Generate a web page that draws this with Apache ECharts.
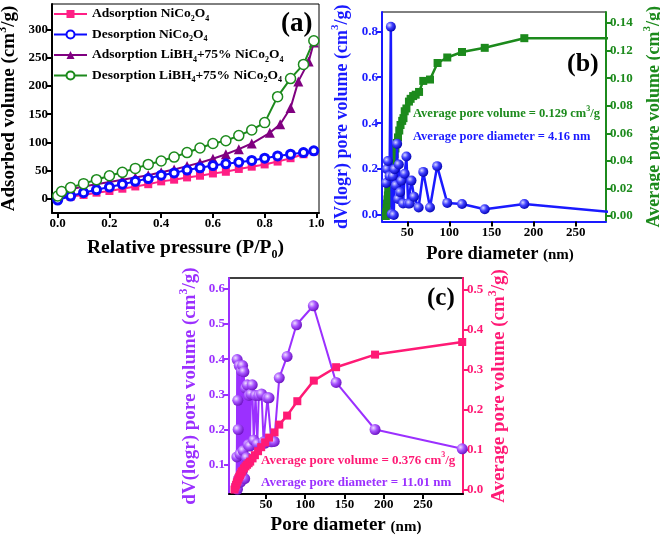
<!DOCTYPE html>
<html><head><meta charset="utf-8">
<script src="https://cdn.jsdelivr.net/npm/echarts@6/dist/echarts.min.js"></script>
<style>html,body{margin:0;padding:0;background:#fff}#c{width:660px;height:538px}</style>
</head><body><div id="c"></div>
<script>
// ---------- Panel (a) data ----------
const aPressNi = [0, 0.05, 0.1, 0.15, 0.2, 0.25, 0.3, 0.35, 0.4, 0.45, 0.5, 0.55, 0.6, 0.65, 0.7, 0.75, 0.8, 0.85, 0.9, 0.95, 0.99];
const aAdsNi = [0, 4, 7, 11, 14, 18, 22, 26, 31, 34, 38, 41, 45, 48, 53, 57, 61, 66, 72, 79, 84];
const aDesNi = [-2, 5, 11, 16, 21, 26, 31, 36, 42, 46, 51, 55, 59, 62, 65, 68, 72, 76, 79, 82, 85];
const aPressLiAds = [0, 0.015, 0.05, 0.1, 0.15, 0.2, 0.25, 0.3, 0.35, 0.4, 0.45, 0.5, 0.55, 0.6, 0.65, 0.7, 0.75, 0.82, 0.86, 0.9, 0.93, 0.97, 0.99];
const aAdsLi = [7, 12, 17, 22, 26, 30, 34, 38, 42, 47, 52, 58, 64, 71, 79, 88, 98, 117, 132, 161, 208, 243, 277];
const aPressLiDes = [0, 0.015, 0.05, 0.1, 0.15, 0.2, 0.25, 0.3, 0.35, 0.4, 0.45, 0.5, 0.55, 0.6, 0.65, 0.7, 0.75, 0.8, 0.85, 0.9, 0.95, 0.99];
const aDesLi = [5, 13, 20, 27, 34, 41, 47, 54, 61, 67, 74, 82, 90, 98, 103, 112, 122, 135, 181, 213, 238, 280];
const aNames = ['Adsorption NiCo2O4', 'Desorption NiCo2O4', 'Adsorption LiBH4+75% NiCo2O4', 'Desorption LiBH4+75% NiCo2O4'];
const aXTicks = [0, 0.2, 0.4, 0.6, 0.8, 1.0];
const aYTicks = [0, 50, 100, 150, 200, 250, 300];

// ---------- Panel (b) data ----------
const bDiamDv = [25, 26, 27, 29, 30.5, 31.5, 33, 34, 35, 36.5, 38, 39, 40, 41.5, 43, 45, 47, 49, 51, 53, 55, 58, 63.5, 69, 77, 85.5, 97.5, 115, 142, 189, 295];
const bDv = [0.14, 0.2, 0.235, 0.17, 0.82, 0.005, 0.17, 0.0, 0.2, 0.13, 0.31, 0.07, 0.22, 0.1, 0.15, 0.05, 0.18, 0.255, 0.05, 0.05, 0.15, 0.08, 0.033, 0.188, 0.033, 0.213, 0.053, 0.048, 0.025, 0.048, 0.012];
const bDiamCum = [24.5, 25, 25.5, 26, 26.5, 27, 27.5, 28, 29, 30, 31, 32, 33, 34, 35, 36, 37.5, 39, 40.5, 42, 44, 45.5, 47, 49, 52, 54, 57, 60, 64, 69, 77, 86, 97.5, 115, 142, 189, 300];
const bCum = [0.0, 0.003, 0.006, 0.009, 0.012, 0.015, 0.018, 0.021, 0.025, 0.029, 0.033, 0.036, 0.039, 0.042, 0.045, 0.049, 0.053, 0.057, 0.062, 0.066, 0.069, 0.071, 0.076, 0.078, 0.083, 0.085, 0.087, 0.088, 0.090, 0.098, 0.099, 0.111, 0.115, 0.119, 0.122, 0.129, 0.129];
const bXTicks = [50, 100, 150, 200, 250];
const bYLTicks = [0, 0.2, 0.4, 0.6, 0.8];
const bYRTicks = [0, 0.02, 0.04, 0.06, 0.08, 0.10, 0.12, 0.14];

// ---------- Panel (c) data ----------
const cDiamDv = [12.5, 13, 13.4, 13.8, 14.2, 14.7, 15.3, 16, 16.9, 17.8, 18.8, 19.6, 20.3, 21, 22, 23, 24, 25.4, 26.3, 27.5, 28.5, 29.6, 31, 32.6, 34.5, 36.8, 39, 41, 44.5, 47, 49, 52, 54, 57, 60.6, 67, 77, 89, 110.4, 139.4, 189, 300];
const cDv = [0.04, 0.122, 0.399, 0.03, 0.283, 0.2, 0.06, 0.382, 0.13, 0.05, 0.367, 0.08, 0.382, 0.14, 0.364, 0.06, 0.318, 0.12, 0.327, 0.157, 0.297, 0.153, 0.301, 0.327, 0.17, 0.297, 0.16, 0.297, 0.301, 0.165, 0.161, 0.29, 0.29, 0.165, 0.166, 0.347, 0.408, 0.498, 0.552, 0.334, 0.2, 0.145];
const cDiamCum = [10, 11, 12, 13, 14, 15, 16, 17, 18, 19, 20, 22, 24, 26, 28, 30, 33, 36, 40, 44, 49, 54, 61, 67, 77, 90, 111, 139.4, 189, 300];
const cCum = [0, 0.006, 0.012, 0.018, 0.023, 0.028, 0.032, 0.036, 0.040, 0.044, 0.047, 0.053, 0.058, 0.062, 0.066, 0.070, 0.078, 0.086, 0.096, 0.106, 0.118, 0.130, 0.143, 0.1625, 0.185, 0.221, 0.2725, 0.306, 0.3375, 0.369];
const cXTicks = [50, 100, 150, 200, 250];
const cYLTicks = [0.1, 0.2, 0.3, 0.4, 0.5, 0.6];
const cYRTicks = [0, 0.1, 0.2, 0.3, 0.4, 0.5];

// ---------- styles ----------
const F = 'Liberation Serif';
const zip = (xs, ys) => xs.map((x, i) => [x, ys[i]]);
function rich(size, color, lh) {
  const s = Math.round(size * 0.62);
  const L = lh || size + 6;
  return {
    n: { fontFamily: F, fontWeight: 'bold', fontSize: size, color: color, lineHeight: L, verticalAlign: 'middle' },
    m: { fontFamily: F, fontWeight: 'bold', fontSize: Math.round(size * 0.8), color: color, lineHeight: L, verticalAlign: 'middle', padding: [3, 0, 0, 0] },
    sup: { fontFamily: F, fontWeight: 'bold', fontSize: s, color: color, lineHeight: s, verticalAlign: 'top' },
    sub: { fontFamily: F, fontWeight: 'bold', fontSize: s, color: color, lineHeight: s, verticalAlign: 'bottom' }
  };
}
function sphere(light, base, dark) {
  return { type: 'radial', x: 0.35, y: 0.35, r: 0.7, colorStops: [
    { offset: 0, color: light }, { offset: 0.45, color: base }, { offset: 1, color: dark }] };
}
function valAxis(o) {
  const c = o.color || '#000';
  return Object.assign({
    type: 'value', splitLine: { show: false }, nameMoveOverlap: false,
    axisLine: { show: true, onZero: false, lineStyle: { color: c, width: 2 } },
    axisTick: { show: true, inside: false, length: 5, customValues: o.ticks, lineStyle: { color: o.tickColor || c, width: 2 } },
    axisLabel: { customValues: o.ticks, color: c, fontFamily: F, fontWeight: 'bold', fontSize: 13, margin: 4,
      formatter: v => o.fmt(v) },
    nameLocation: 'middle'
  }, o.extra);
}
const tLab = (txt, left, top, size, color) => ({
  text: txt, left: left, top: top, padding: 0,
  textStyle: { fontFamily: F, fontWeight: 'bold', fontSize: size, color: color, rich: rich(size, color) }
});

const chart = echarts.init(document.getElementById('c'), null, { renderer: 'canvas' });
const option = {
  backgroundColor: '#fff',
  animation: false,
  grid: [
    { left: 52, top: 4, width: 267, height: 209, show: true, borderColor: '#000', borderWidth: 1, backgroundColor: '#fff', outerBoundsMode: 'none' },
    { left: 382, top: 12, width: 224, height: 209.5, show: true, borderColor: '#000', borderWidth: 1, backgroundColor: '#fff', outerBoundsMode: 'none' },
    { left: 229, top: 278, width: 234, height: 216, show: true, borderColor: '#000', borderWidth: 1.5, backgroundColor: '#fff', outerBoundsMode: 'none' }
  ],
  title: [
    tLab('(a)', 281, 11, 27, '#000'),
    tLab('(b)', 567, 51, 26, '#000'),
    tLab('(c)', 427, 286, 25, '#000'),
    tLab('{n|Average pore volume = 0.129 cm}{sup|3}{n|/g}', 413, 105, 12.5, '#1c8a1c'),
    tLab('{n|Average pore diameter = 4.16 nm}', 413, 128, 12.5, '#1a1aff'),
    tLab('{n|Average pore volume = 0.376 cm}{sup|3}{n|/g}', 261, 451, 13, '#ff1a75'),
    tLab('{n|Average pore diameter = 11.01 nm}', 261, 473, 13, '#9b30ff')
  ],
  legend: {
    orient: 'vertical', left: 53, top: 7, padding: 0, itemWidth: 33, itemHeight: 10, itemGap: 5,
    data: aNames,
    formatter: name => {
      const m = name.match(/^(\w+) (LiBH4\+75% )?NiCo2O4$/);
      let s = '{n|' + m[1] + ' }';
      if (m[2]) s += '{n|LiBH}{sub|4}{n|+75% }';
      return s + '{n|NiCo}{sub|2}{n|O}{sub|4}';
    },
    textStyle: { fontFamily: F, fontWeight: 'bold', fontSize: 13.5, color: '#000', rich: rich(13.5, '#000', 17) }
  },
  xAxis: [
    valAxis({ ticks: aXTicks, fmt: v => v.toFixed(1), extra: { gridIndex: 0, min: -0.022, max: 1.01,
      name: '{n|Relative pressure (P/P}{sub|0}{n|)}', nameGap: 22, nameTextStyle: { rich: rich(19.5, '#000') } } }),
    valAxis({ color: '#1a1aff', tickColor: '#000', ticks: bXTicks, fmt: v => String(v), extra: { gridIndex: 1, min: 20, max: 286,
      axisLabel: { customValues: bXTicks, color: '#000', fontFamily: F, fontWeight: 'bold', fontSize: 13, margin: 5 },
      name: '{n|Pore diameter }{m|(nm)}', nameGap: 20, nameTextStyle: { padding: [0, 0, 0, 12], rich: rich(18.5, '#000') } } }),
    valAxis({ ticks: cXTicks, fmt: v => String(v), extra: { gridIndex: 2, min: 3, max: 301,
      name: '{n|Pore diameter }{m|(nm)}', nameGap: 19, nameTextStyle: { rich: rich(19, '#000') } } })
  ],
  yAxis: [
    valAxis({ ticks: aYTicks, fmt: v => String(v), extra: { gridIndex: 0, min: -25, max: 345,
      name: '{n|Adsorbed volume (cm}{sup|3}{n|/g)}', nameGap: 30, nameTextStyle: { rich: rich(19, '#000') } } }),
    valAxis({ color: '#1a1aff', ticks: bYLTicks, fmt: v => v.toFixed(1), extra: { gridIndex: 1, min: -0.028, max: 0.884,
      name: '{n|dV(logr) pore volume (cm}{sup|3}{n|/g)}', nameGap: 28, nameTextStyle: { rich: rich(18, '#1a1aff') } } }),
    valAxis({ color: '#1c8a1c', ticks: bYRTicks, fmt: v => v.toFixed(2), extra: { gridIndex: 1, position: 'right', min: -0.004, max: 0.148,
      name: '{n|Average pore volume (cm}{sup|3}{n|/g)}', nameGap: 36, nameRotate: 90, nameTextStyle: { rich: rich(18, '#1c8a1c') } } }),
    valAxis({ color: '#9b30ff', ticks: cYLTicks, fmt: v => v.toFixed(1), extra: { gridIndex: 2, min: 0.0165, max: 0.631,
      name: '{n|dV(logr) pore volume (cm}{sup|3}{n|/g)}', nameGap: 26, nameTextStyle: { rich: rich(19, '#9b30ff') } } }),
    valAxis({ color: '#ff1a75', ticks: cYRTicks, fmt: v => v.toFixed(1), extra: { gridIndex: 2, position: 'right', min: -0.011, max: 0.529,
      name: '{n|Average pore volume (cm}{sup|3}{n|/g)}', nameGap: 24, nameRotate: 90, nameTextStyle: { rich: rich(19, '#ff1a75') } } })
  ],
  series: [
    { name: aNames[0], type: 'line', xAxisIndex: 0, yAxisIndex: 0, data: zip(aPressNi, aAdsNi), symbol: 'rect', symbolSize: 8,
      lineStyle: { color: '#ff1f85', width: 2 }, itemStyle: { color: '#ff1f85' }, z: 2 },
    { name: aNames[1], type: 'line', xAxisIndex: 0, yAxisIndex: 0, data: zip(aPressNi, aDesNi), symbol: 'circle', symbolSize: 8,
      lineStyle: { color: '#0a0aff', width: 2 }, itemStyle: { color: '#ffffff', borderColor: '#0a0aff', borderWidth: 3 }, z: 3 },
    { name: aNames[2], type: 'line', xAxisIndex: 0, yAxisIndex: 0, data: zip(aPressLiAds, aAdsLi), symbol: 'triangle', symbolSize: 10,
      lineStyle: { color: '#800080', width: 2 }, itemStyle: { color: '#800080' }, z: 2 },
    { name: aNames[3], type: 'line', xAxisIndex: 0, yAxisIndex: 0, data: zip(aPressLiDes, aDesLi), symbol: 'circle', symbolSize: 10,
      lineStyle: { color: '#1c8a1c', width: 2 }, itemStyle: { color: '#ffffff', borderColor: '#1c8a1c', borderWidth: 1.5 }, z: 3 },

    { type: 'line', xAxisIndex: 1, yAxisIndex: 2, data: zip(bDiamCum, bCum), symbol: 'rect', symbolSize: 8, showAllSymbol: true,
      lineStyle: { color: '#1c8a1c', width: 2.5 }, itemStyle: { color: '#1c8a1c' }, z: 2 },
    { type: 'line', xAxisIndex: 1, yAxisIndex: 1, data: zip(bDiamDv, bDv), symbol: 'circle', symbolSize: 10, showAllSymbol: true,
      lineStyle: { color: '#1a1aff', width: 2.5 }, itemStyle: { color: sphere('#d8d8ff', '#4040ff', '#0000b0') }, z: 3 },

    { type: 'line', xAxisIndex: 2, yAxisIndex: 3, data: zip(cDiamDv, cDv), symbol: 'circle', symbolSize: 11, showAllSymbol: true,
      lineStyle: { color: '#9b30ff', width: 2 }, itemStyle: { color: sphere('#f0e0ff', '#a855ff', '#6a10c0') }, z: 2 },
    { type: 'line', xAxisIndex: 2, yAxisIndex: 4, data: zip(cDiamCum, cCum), symbol: 'rect', symbolSize: 8, showAllSymbol: true,
      lineStyle: { color: '#ff1a75', width: 2.5 }, itemStyle: { color: '#ff1a75' }, z: 3 }
  ]
};
chart.setOption(option);
</script></body></html>
